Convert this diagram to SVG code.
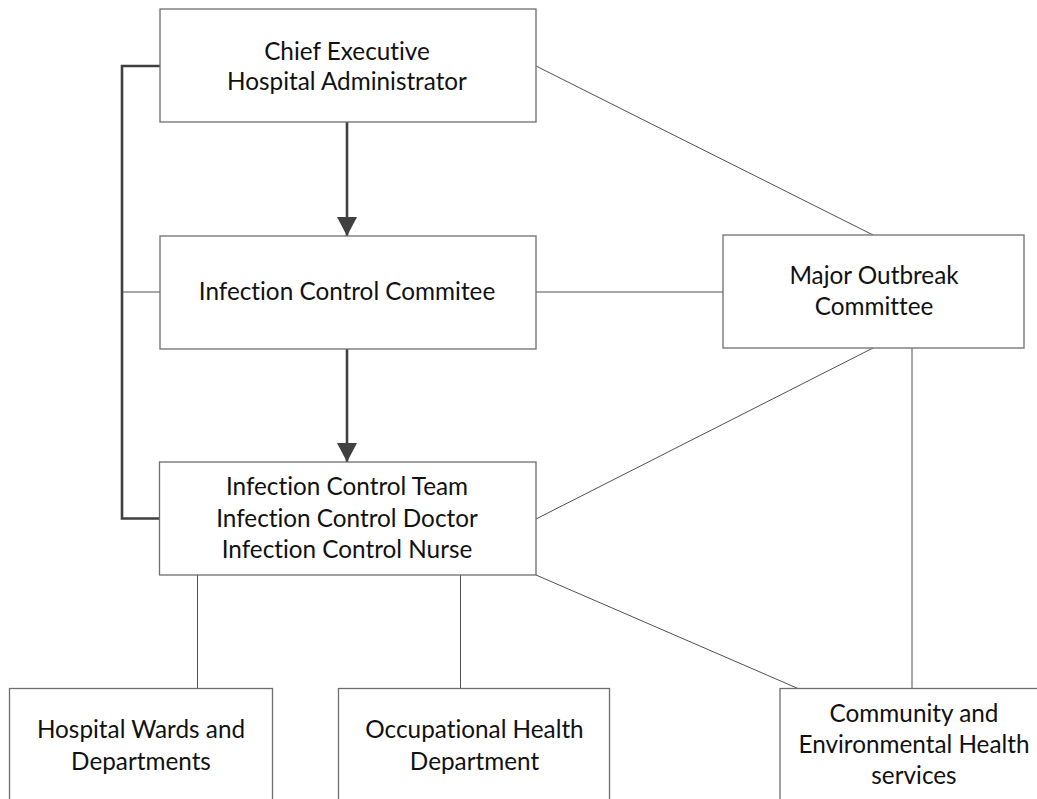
<svg xmlns="http://www.w3.org/2000/svg" width="1037" height="799" viewBox="0 0 1037 799">
  <style>
    .box { fill: #ffffff; stroke: #6e6e6e; stroke-width: 1.3; }
    .lbl { font-family: Lato, "Liberation Sans", sans-serif; font-size: 24.3px; fill: #111111; text-anchor: middle; font-variant-ligatures: none; font-feature-settings: "liga" 0, "clig" 0; }
    .thin { fill: none; stroke: #505050; stroke-width: 1; }
    .thick { fill: none; stroke: #404040; stroke-width: 2.6; }
  </style>
  <defs>
    <marker id="arrow" markerUnits="userSpaceOnUse" markerWidth="20" markerHeight="20" refX="19" refY="10" orient="auto">
      <path d="M0,0 L19,10 L0,20 Z" fill="#404040"/>
    </marker>
  </defs>
  <rect width="1037" height="799" fill="#ffffff"/>

  <g id="connectors">
    <!-- bracket on the left tying the executive to the team -->
    <polyline class="thick" points="160,66 122,66 122,518.5 160,518.5"/>
    <line class="thin" x1="122" y1="292" x2="160" y2="292"/>
    <!-- reporting arrows -->
    <line class="thick" x1="347" y1="122" x2="347" y2="236" marker-end="url(#arrow)"/>
    <line class="thick" x1="347" y1="349" x2="347" y2="462" marker-end="url(#arrow)"/>
    <!-- links to the outbreak committee -->
    <line class="thin" x1="536" y1="66" x2="873" y2="235"/>
    <line class="thin" x1="536" y1="292" x2="723" y2="292"/>
    <line class="thin" x1="536" y1="519" x2="873" y2="348"/>
    <line class="thin" x1="912" y1="348" x2="912" y2="688"/>
    <!-- team to operational units -->
    <line class="thin" x1="197.5" y1="575" x2="197.5" y2="688.5"/>
    <line class="thin" x1="460.5" y1="575" x2="460.5" y2="688.5"/>
    <line class="thin" x1="536" y1="575" x2="798" y2="688.5"/>
  </g>

  <g id="chief-executive">
    <rect class="box" x="160" y="9" width="376" height="113"/>
    <text class="lbl" x="347" y="59.5">Chief Executive</text>
    <text class="lbl" x="347" y="90">Hospital Administrator</text>
  </g>

  <g id="infection-control-committee">
    <rect class="box" x="160" y="236" width="376" height="113"/>
    <text class="lbl" x="347" y="300">Infection Control Commitee</text>
  </g>

  <g id="major-outbreak-committee">
    <rect class="box" x="723" y="235" width="301" height="113"/>
    <text class="lbl" x="874" y="284">Major Outbreak</text>
    <text class="lbl" x="874" y="315">Committee</text>
  </g>

  <g id="infection-control-team">
    <rect class="box" x="159.5" y="462" width="376.5" height="113"/>
    <text class="lbl" x="347" y="495">Infection Control Team</text>
    <text class="lbl" x="347" y="526.5">Infection Control Doctor</text>
    <text class="lbl" x="347" y="558">Infection Control Nurse</text>
  </g>

  <g id="hospital-wards">
    <rect class="box" x="9.5" y="688.5" width="263" height="130"/>
    <text class="lbl" x="141" y="738">Hospital Wards and</text>
    <text class="lbl" x="141" y="770">Departments</text>
  </g>

  <g id="occupational-health">
    <rect class="box" x="338.5" y="688.5" width="271" height="130"/>
    <text class="lbl" x="474.5" y="738">Occupational Health</text>
    <text class="lbl" x="474.5" y="770">Department</text>
  </g>

  <g id="community-health">
    <rect class="box" x="780" y="688.5" width="272" height="130"/>
    <text class="lbl" x="914" y="721.5">Community and</text>
    <text class="lbl" x="914" y="753">Environmental Health</text>
    <text class="lbl" x="914" y="784">services</text>
  </g>
</svg>
